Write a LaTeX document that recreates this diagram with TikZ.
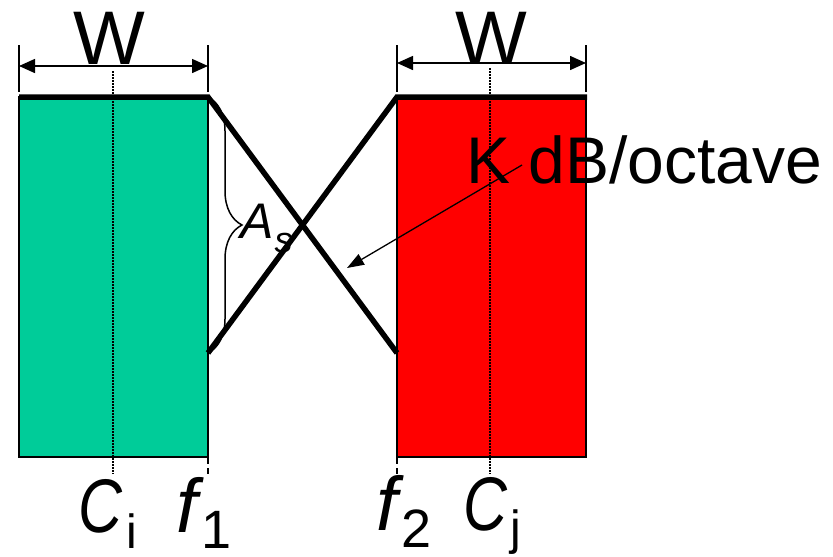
\documentclass[tikz,border=0pt]{standalone}
\usepackage{fontspec}
\setmainfont{Liberation Sans}
\usetikzlibrary{arrows.meta,decorations.pathreplacing}
\definecolor{bandgreen}{RGB}{0,204,153}
\definecolor{bandred}{RGB}{255,0,0}
\begin{document}
\begin{tikzpicture}[x=1pt,y=-1pt,
  thinedge/.style={line width=1.5pt},
  heavy/.style={line width=5.5pt, line join=miter},
  centreline/.style={line width=1.6pt, dash pattern=on 1.5pt off 1.5pt},
  tickline/.style={line width=1.4pt, dash pattern=on 6pt off 4pt},
  dimline/.style={line width=1.5pt,{Triangle[length=16pt,width=14pt]}-{Triangle[length=16pt,width=14pt]}},
  lbl/.style={inner sep=0pt, anchor=base west},
  big/.style={font=\fontsize{76}{76}\selectfont}]
\useasboundingbox (0,0) rectangle (833,557);
% bands
\fill[bandgreen] (19,97) rectangle (208,457);
\draw[thinedge] (19,97) rectangle (208,457);
\fill[bandred] (397,97) rectangle (586,457);
\draw[thinedge] (397,97) rectangle (586,457);
% centre lines
\draw[centreline] (113,71) -- (113,474);
\draw[centreline] (490,68) -- (490,474);
% tick marks below
\draw[tickline] (208,458) -- (208,475);
\draw[tickline] (397,458) -- (397,475);
% dimension W left
\draw[thinedge] (19,45) -- (19,92);
\draw[thinedge] (208,45) -- (208,92);
\draw[dimline] (19,66) -- (208,66);
% dimension W right
\draw[thinedge] (397,45) -- (397,92);
\draw[thinedge] (586,45) -- (586,92);
\draw[dimline] (397,63) -- (586,63);
\node[big, inner sep=0pt] (wl) at (109,38) {W};
\node[big, inner sep=0pt] (wr) at (491,38) {W};
% skirts
\draw[heavy] (19,97) -- (208,97) -- (397,353);
\draw[heavy] (587,97) -- (397,97) -- (208,353);
% brace
\draw[thinedge, decorate, decoration={brace, amplitude=34pt}] (208,97) -- (208,353);
\node[lbl, font=\fontsize{50}{50}\selectfont\itshape] (as) at (240,238) {A\hspace{1pt}\raisebox{-14pt}{\fontsize{36}{36}\selectfont s}};
% K dB/octave
\coordinate (ktail) at (522,165);
\coordinate (ktip) at (347,268);
\draw[line width=1.3pt, -{Triangle[length=17pt,width=12pt]}] (ktail) -- (ktip);
\node[lbl, font=\fontsize{66}{66}\selectfont] (k) at (466,183) {K dB/octave};
% bottom labels
\node[lbl] (ci) at (78,532) {\scalebox{0.8}[1]{\fontsize{76}{76}\selectfont\itshape C}\hspace{4pt}\raisebox{-16pt}{\fontsize{48}{48}\selectfont i}};
\node[lbl] (f1) at (176,532) {{\fontsize{76}{76}\selectfont\itshape f}\hspace{4pt}\raisebox{-16pt}{\fontsize{54}{54}\selectfont 1}};
\node[lbl] (f2) at (376,530) {{\fontsize{76}{76}\selectfont\itshape f}\hspace{4pt}\raisebox{-17pt}{\fontsize{54}{54}\selectfont 2}};
\node[lbl] (cj) at (463,530) {\scalebox{0.8}[1]{\fontsize{76}{76}\selectfont\itshape C}\hspace{3pt}\raisebox{-14pt}{\fontsize{48}{48}\selectfont j}};
\end{tikzpicture}
\end{document}
